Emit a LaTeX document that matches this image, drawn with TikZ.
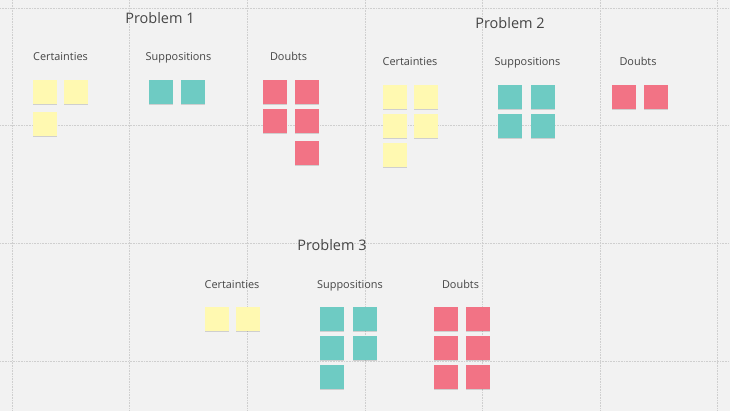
\documentclass[tikz,border=0pt]{standalone}
\usepackage{fontspec}
\setmainfont{Open Sans}
\usetikzlibrary{shadows}
\definecolor{bg}{HTML}{F2F2F2}
\definecolor{gridc}{HTML}{CFCFCF}
\definecolor{txt}{HTML}{454545}
\definecolor{yel}{HTML}{FFF9B1}
\definecolor{teal}{HTML}{6ECBC3}
\definecolor{pink}{HTML}{F27385}
\begin{document}
\begin{tikzpicture}[x=1pt,y=-1pt,
  gridline/.style={draw=gridc,line width=0.6pt,densely dotted},
  note/.style={anchor=north west,minimum size=24pt,inner sep=0pt,draw=none,
    drop shadow={shadow xshift=0pt,shadow yshift=-1.2pt,fill=black,opacity=0.14}},
  ynote/.style={note,fill=yel},
  tnote/.style={note,fill=teal},
  pnote/.style={note,fill=pink},
  title/.style={anchor=base,text=txt,font=\fontsize{14.5}{16}\selectfont,inner sep=0pt},
  lbl/.style={anchor=base,text=txt,font=\fontsize{10.9}{12}\selectfont,inner sep=0pt}]
\fill[bg] (0,0) rectangle (730,411);
\useasboundingbox (0,0) rectangle (730,411);
\foreach \x in {12,129.6,247.2,364.8,482.4,600,717.6} \draw[gridline] (\x,0) -- (\x,411);
\foreach \y in {8,125.6,243.2,360.8} \draw[gridline] (0,\y) -- (730,\y);
% Problem 1
\node[title] (t1) at (160,24) {Problem 1};
\node[lbl] (c1) at (60.5,61) {Certainties};
\node[lbl] (s1) at (178.5,61) {Suppositions};
\node[lbl] (d1) at (288.5,61) {Doubts};
\node[ynote] (c1a) at (33,80) {};
\node[ynote] (c1b) at (64,80) {};
\node[ynote] (c1c) at (33,112) {};
\node[tnote] (s1a) at (149,80) {};
\node[tnote] (s1b) at (181,80) {};
\node[pnote] (d1a) at (263,80) {};
\node[pnote] (d1b) at (295,80) {};
\node[pnote] (d1c) at (263,109) {};
\node[pnote] (d1d) at (295,109) {};
\node[pnote] (d1e) at (295,141) {};
% Problem 2
\node[title] (t2) at (510,29) {Problem 2};
\node[lbl] (c2) at (410,66) {Certainties};
\node[lbl] (s2) at (527.5,66) {Suppositions};
\node[lbl] (d2) at (638,66) {Doubts};
\node[ynote] (c2a) at (383,85) {};
\node[ynote] (c2b) at (414,85) {};
\node[ynote] (c2c) at (383,114) {};
\node[ynote] (c2d) at (414,114) {};
\node[ynote] (c2e) at (383,143) {};
\node[tnote] (s2a) at (498,85) {};
\node[tnote] (s2b) at (531,85) {};
\node[tnote] (s2c) at (498,114) {};
\node[tnote] (s2d) at (531,114) {};
\node[pnote] (d2a) at (612,85) {};
\node[pnote] (d2b) at (644,85) {};
% Problem 3
\node[title] (t3) at (332,251) {Problem 3};
\node[lbl] (c3) at (232,289) {Certainties};
\node[lbl] (s3) at (350,289) {Suppositions};
\node[lbl] (d3) at (460.5,289) {Doubts};
\node[ynote] (c3a) at (205,307) {};
\node[ynote] (c3b) at (236,307) {};
\node[tnote] (s3a) at (320,307) {};
\node[tnote] (s3b) at (353,307) {};
\node[tnote] (s3c) at (320,336) {};
\node[tnote] (s3d) at (353,336) {};
\node[tnote] (s3e) at (320,365) {};
\node[pnote] (d3a) at (434,307) {};
\node[pnote] (d3b) at (466,307) {};
\node[pnote] (d3c) at (434,336) {};
\node[pnote] (d3d) at (466,336) {};
\node[pnote] (d3e) at (434,365) {};
\node[pnote] (d3f) at (466,365) {};
\end{tikzpicture}
\end{document}
